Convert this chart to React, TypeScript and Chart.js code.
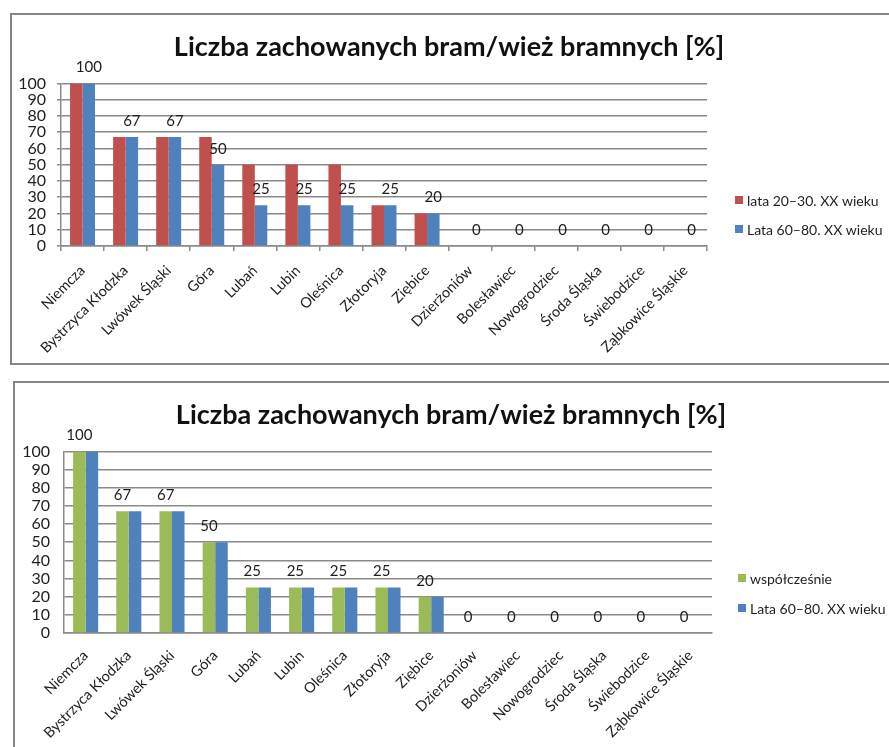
import React, { useEffect, useRef } from "react";
import { Chart, registerables } from "chart.js";
Chart.register(...registerables);

const categories = [
  "Niemcza", "Bystrzyca Kłodzka", "Lwówek Śląski", "Góra", "Lubań", "Lubin",
  "Oleśnica", "Złotoryja", "Ziębice", "Dzierżoniów", "Bolesławiec",
  "Nowogrodziec", "Środa Śląska", "Świebodzice", "Ząbkowice Śląskie",
];
const series2030 = [100, 67, 67, 67, 50, 50, 50, 25, 20, 0, 0, 0, 0, 0, 0];
const series6080 = [100, 67, 67, 50, 25, 25, 25, 25, 20, 0, 0, 0, 0, 0, 0];
const seriesNow = [100, 67, 67, 50, 25, 25, 25, 25, 20, 0, 0, 0, 0, 0, 0];
const label2030 = "lata 20–30. XX wieku";
const label6080 = "Lata 60–80. XX wieku";
const labelNow = "współcześnie";
const titleText = "Liczba zachowanych bram/wież bramnych [%]";
const yMin = 0;
const yMax = 100;
const yStep = 10;

const RED = "#C0504D";
const BLUE = "#4F81BD";
const GREEN = "#9BBB59";
const GRID = "#8a8a8a";
const FONT = "Lato, 'Open Sans', sans-serif";
const TEXT = "#1e1e1e";

const valueLabels = {
  id: "valueLabels",
  afterDatasetsDraw(chart: any, _a: any, opts: any) {
    const ds = opts.datasetIndex;
    const meta = chart.getDatasetMeta(ds);
    const data = chart.data.datasets[ds].data;
    const ctx = chart.ctx;
    ctx.save();
    ctx.font = `15px ${FONT}`;
    ctx.fillStyle = TEXT;
    ctx.textAlign = "center";
    ctx.textBaseline = "middle";
    meta.data.forEach((bar: any, i: number) => {
      ctx.fillText(String(data[i]), bar.x, bar.y - opts.offset);
    });
    ctx.restore();
  },
};

const sideLegend = {
  id: "sideLegend",
  afterDraw(chart: any, _a: any, opts: any) {
    const ctx = chart.ctx;
    const area = chart.chartArea;
    ctx.save();
    ctx.font = `14px ${FONT}`;
    ctx.textBaseline = "middle";
    ctx.textAlign = "left";
    chart.data.datasets.forEach((d: any, i: number) => {
      const x = area.right + opts.dx;
      const y = area.bottom + opts.firstY + i * opts.gap;
      ctx.fillStyle = d.backgroundColor;
      ctx.fillRect(x, y - 4, 8, 8);
      ctx.fillStyle = TEXT;
      ctx.fillText(d.label, x + 12, y + 1);
    });
    ctx.restore();
  },
};

function makeChart(
  canvas: HTMLCanvasElement,
  datasets: any[],
  cfg: { rightSpace: number; xHeight: number; ticks: boolean; xPad: number; labelDs: number; legendFirstY: number; legendDx: number; legendGap: number }
) {
  return new Chart(canvas, {
    type: "bar",
    data: { labels: categories, datasets },
    plugins: [valueLabels, sideLegend],
    options: {
      responsive: false,
      animation: false,
      devicePixelRatio: 1,
      layout: { padding: 0 },
      datasets: { bar: { categoryPercentage: 0.58, barPercentage: 1 } },
      plugins: {
        legend: { display: false },
        tooltip: { enabled: false },
        title: {
          display: true,
          text: titleText,
          color: "#111",
          font: { family: FONT, size: 27, weight: "bold", lineHeight: 1.2 },
          padding: { top: 16, bottom: 20 },
        },
        valueLabels: { datasetIndex: cfg.labelDs, offset: 16 },
        sideLegend: { dx: cfg.legendDx, firstY: cfg.legendFirstY, gap: cfg.legendGap },
      } as any,
      scales: {
        x: {
          afterFit(scale: any) { scale.height = cfg.xHeight; },
          grid: {
            display: true,
            drawOnChartArea: false,
            drawTicks: cfg.ticks,
            tickLength: 5,
            color: GRID,
            lineWidth: 1.5,
            offset: true,
          },
          border: { display: true, color: GRID, width: 1.5 },
          ticks: {
            autoSkip: false,
            minRotation: 45,
            maxRotation: 45,
            padding: cfg.xPad,
            color: TEXT,
            font: { family: FONT, size: 14.5 },
          },
        },
        y: {
          position: "left",
          min: yMin,
          max: yMax,
          afterFit(scale: any) { scale.width = 49; },
          grid: {
            color: GRID,
            lineWidth: 1.5,
            drawTicks: cfg.ticks,
            tickLength: 4,
          },
          border: { display: true, color: GRID, width: 1.5 },
          ticks: {
            stepSize: yStep,
            autoSkip: false,
            padding: cfg.ticks ? 11 : 14,
            color: TEXT,
            font: { family: FONT, size: 16, lineHeight: 0.8 },
          },
        },
        legendSpace: {
          type: "linear",
          position: "right",
          display: true,
          afterFit(scale: any) { scale.width = cfg.rightSpace; },
          grid: { display: false, drawOnChartArea: false },
          border: { display: false },
          ticks: { display: false },
        },
      },
    },
  } as any);
}

export default function App() {
  const ref1 = useRef<HTMLCanvasElement>(null);
  const ref2 = useRef<HTMLCanvasElement>(null);

  useEffect(() => {
    const c1 = makeChart(
      ref1.current!,
      [
        { label: label2030, data: series2030, backgroundColor: RED, yAxisID: "y" },
        { label: label6080, data: series6080, backgroundColor: BLUE, yAxisID: "y" },
      ],
      { rightSpace: 179, xHeight: 117, ticks: true, xPad: 11, labelDs: 1, legendDx: 28, legendFirstY: -46, legendGap: 29 }
    );
    const c2 = makeChart(
      ref2.current!,
      [
        { label: labelNow, data: seriesNow, backgroundColor: GREEN, yAxisID: "y" },
        { label: label6080, data: series6080, backgroundColor: BLUE, yAxisID: "y" },
      ],
      { rightSpace: 175, xHeight: 114, ticks: false, xPad: 14, labelDs: 0, legendDx: 26, legendFirstY: -55, legendGap: 30 }
    );
    return () => {
      c1.destroy();
      c2.destroy();
    };
  }, []);

  const box: React.CSSProperties = {
    position: "absolute",
    border: "2px solid #858585",
    background: "#fff",
    boxSizing: "border-box",
  };

  return (
    <div style={{ position: "fixed", left: 0, top: 0, width: 889, height: 747, overflow: "hidden", background: "#fff" }}>
      <div style={{ ...box, left: 10, top: 13, width: 920, height: 352 }} />
      <canvas ref={ref1} width={874} height={348} style={{ position: "absolute", left: 12, top: 15 }} />
      <div style={{ ...box, left: 13, top: 381, width: 920, height: 400 }} />
      <canvas ref={ref2} width={872} height={364} style={{ position: "absolute", left: 15, top: 383 }} />
    </div>
  );
}
